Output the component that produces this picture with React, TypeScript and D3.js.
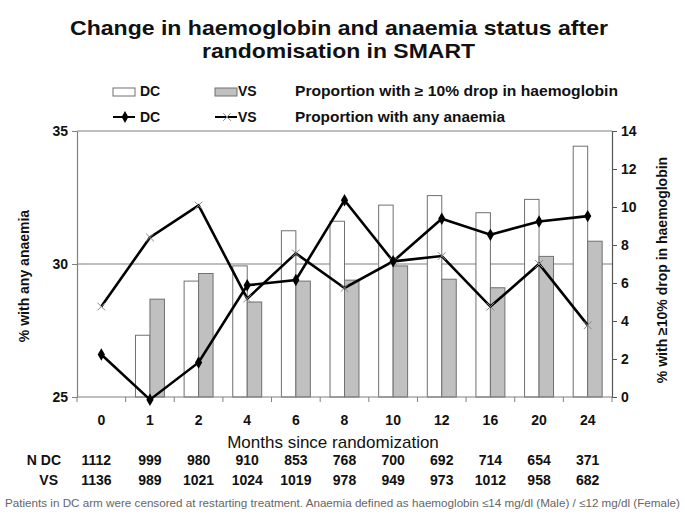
import * as d3 from 'd3';
import React, { useEffect, useRef } from 'react';

// months since randomisation
const months = ['0', '1', '2', '4', '6', '8', '10', '12', '16', '20', '24'];
// % with >=10% drop in haemoglobin (right axis, bars)
const dropDC = [0, 3.25, 6.1, 6.9, 8.75, 9.25, 10.1, 10.6, 9.7, 10.4, 13.2];
const dropVS = [0, 5.15, 6.5, 5.0, 6.1, 6.15, 6.9, 6.2, 5.75, 7.4, 8.2];
// % with any anaemia (left axis, lines)
const anaemiaDC = [26.6, 24.9, 26.3, 29.2, 29.4, 32.4, 30.1, 31.7, 31.1, 31.6, 31.8];
const anaemiaVS = [28.4, 31.0, 32.2, 28.7, 30.4, 29.1, 30.1, 30.3, 28.4, 30.0, 27.7];
// numbers at risk
const nDC = [1112, 999, 980, 910, 853, 768, 700, 692, 714, 654, 371];
const nVS = [1136, 989, 1021, 1024, 1019, 978, 949, 973, 1012, 958, 682];
const leftTicks = [25, 30, 35];
const rightTicks = [0, 2, 4, 6, 8, 10, 12, 14];
const arms = ['DC', 'VS'];

const FONT = 'Arial, "Liberation Sans", Helvetica, sans-serif';

const App = () => {
    const svgRef = useRef(null);

    useEffect(() => {
        document.body.style.margin = '0';
        const svg = d3.select(svgRef.current);
        svg.selectAll('*').remove();

        const width = 685;
        const height = 531;
        const left = 77, right = 612, top = 131, bottom = 397;

        svg.attr('width', width).attr('height', height)
            .style('font-family', FONT)
            .style('background', '#fff');

        const x = d3.scaleBand().domain(months).range([left, right]).padding(0);
        const xInner = d3.scaleBand().domain(arms).range([0, x.bandwidth()]).paddingInner(0).paddingOuter(0.68);
        const yL = d3.scaleLinear().domain([25, 35]).range([bottom, top]);
        const yR = d3.scaleLinear().domain([0, 14]).range([bottom, top]);

        // title
        svg.append('text')
            .attr('x', 70).attr('y', 35)
            .attr('textLength', 538).attr('lengthAdjust', 'spacingAndGlyphs')
            .style('font-size', '21px').style('font-weight', 'bold').attr('fill', '#111')
            .text('Change in haemoglobin and anaemia status after');
        svg.append('text')
            .attr('x', 202).attr('y', 58)
            .attr('textLength', 273).attr('lengthAdjust', 'spacingAndGlyphs')
            .style('font-size', '21px').style('font-weight', 'bold').attr('fill', '#111')
            .text('randomisation in SMART');

        // gridlines (left axis)
        svg.append('g').selectAll('line')
            .data(leftTicks.filter(t => t > 25))
            .join('line')
            .attr('x1', left).attr('x2', right)
            .attr('y1', d => yL(d)).attr('y2', d => yL(d))
            .attr('stroke', '#808080').attr('stroke-width', 1.2);

        // bars
        const barData = [];
        months.forEach((m, i) => {
            barData.push({ m, arm: 'DC', v: dropDC[i] });
            barData.push({ m, arm: 'VS', v: dropVS[i] });
        });
        svg.append('g').selectAll('rect')
            .data(barData.filter(d => d.v > 0))
            .join('rect')
            .attr('x', d => x(d.m) + xInner(d.arm))
            .attr('width', xInner.bandwidth())
            .attr('y', d => yR(d.v))
            .attr('height', d => yR(0) - yR(d.v))
            .attr('fill', d => d.arm === 'DC' ? '#ffffff' : '#c0c0c0')
            .attr('stroke', '#707070')
            .attr('stroke-width', 1);

        // left axis
        const gl = svg.append('g').attr('transform', `translate(${left},0)`)
            .call(d3.axisLeft(yL).tickValues(leftTicks).tickSize(5).tickSizeOuter(0).tickPadding(4));
        gl.select('.domain').attr('stroke', '#808080').attr('stroke-width', 1.2);
        gl.selectAll('.tick line').attr('stroke', '#808080');
        gl.selectAll('.tick text').style('font-size', '14px').style('font-weight', 'bold')
            .style('font-family', FONT).attr('fill', '#111');

        // right axis
        const gr = svg.append('g').attr('transform', `translate(${right},0)`)
            .call(d3.axisRight(yR).tickValues(rightTicks).tickSize(5).tickSizeOuter(0).tickPadding(4));
        gr.select('.domain').attr('stroke', '#555').attr('stroke-width', 1.2);
        gr.selectAll('.tick line').attr('stroke', '#555');
        gr.selectAll('.tick text').style('font-size', '14px').style('font-weight', 'bold')
            .style('font-family', FONT).attr('fill', '#111');

        // x axis
        const boundaries = months.map(m => x(m)).concat([right]);
        svg.append('line')
            .attr('x1', left).attr('x2', right).attr('y1', bottom).attr('y2', bottom)
            .attr('stroke', '#808080').attr('stroke-width', 1.2);
        svg.append('g').selectAll('line')
            .data(boundaries)
            .join('line')
            .attr('x1', d => d).attr('x2', d => d)
            .attr('y1', bottom).attr('y2', bottom + 5)
            .attr('stroke', '#808080');
        svg.append('g').selectAll('text')
            .data(months)
            .join('text')
            .attr('x', d => x(d) + x.bandwidth() / 2)
            .attr('y', 425)
            .attr('text-anchor', 'middle')
            .style('font-size', '14px').style('font-weight', 'bold')
            .attr('fill', '#111')
            .text(d => d);

        // lines
        const cx = (i) => x(months[i]) + x.bandwidth() / 2;
        const line = d3.line().x((d, i) => cx(i)).y(d => yL(d));
        svg.append('path').datum(anaemiaVS)
            .attr('d', line).attr('fill', 'none')
            .attr('stroke', '#000').attr('stroke-width', 2.6).attr('stroke-linejoin', 'miter');
        svg.append('path').datum(anaemiaDC)
            .attr('d', line).attr('fill', 'none')
            .attr('stroke', '#000').attr('stroke-width', 2.6).attr('stroke-linejoin', 'miter');

        svg.append('g').selectAll('path')
            .data(anaemiaVS)
            .join('path')
            .attr('transform', (d, i) => `translate(${cx(i)},${yL(d)})`)
            .attr('d', d3.symbol(d3.symbolX, 40))
            .attr('fill', 'none').attr('stroke', '#888').attr('stroke-width', 1);
        svg.append('g').selectAll('path')
            .data(anaemiaDC)
            .join('path')
            .attr('transform', (d, i) => `translate(${cx(i)},${yL(d)})`)
            .attr('d', d3.symbol(d3.symbolDiamond, 45))
            .attr('fill', '#000');

        // legend
        const lg = svg.append('g').style('font-size', '14px').style('font-weight', 'bold').attr('fill', '#111');
        lg.append('rect').attr('x', 113).attr('y', 88).attr('width', 22).attr('height', 8)
            .attr('fill', '#fff').attr('stroke', '#707070');
        lg.append('text').attr('x', 140).attr('y', 96).text('DC');
        lg.append('rect').attr('x', 215).attr('y', 88).attr('width', 22).attr('height', 8)
            .attr('fill', '#c0c0c0').attr('stroke', '#707070');
        lg.append('text').attr('x', 238).attr('y', 96).text('VS');
        lg.append('text').attr('x', 295).attr('y', 96)
            .attr('textLength', 323).attr('lengthAdjust', 'spacingAndGlyphs')
            .text('Proportion with \u2265 10% drop in haemoglobin');

        lg.append('line').attr('x1', 113).attr('x2', 135).attr('y1', 117).attr('y2', 117)
            .attr('stroke', '#000').attr('stroke-width', 2);
        lg.append('path').attr('transform', 'translate(125,117)')
            .attr('d', d3.symbol(d3.symbolDiamond, 40)).attr('fill', '#000');
        lg.append('text').attr('x', 140).attr('y', 122).text('DC');
        lg.append('line').attr('x1', 215).attr('x2', 237).attr('y1', 117).attr('y2', 117)
            .attr('stroke', '#000').attr('stroke-width', 2);
        lg.append('path').attr('transform', 'translate(227,117)')
            .attr('d', d3.symbol(d3.symbolX, 40)).attr('fill', 'none').attr('stroke', '#888');
        lg.append('text').attr('x', 238).attr('y', 122).text('VS');
        lg.append('text').attr('x', 295).attr('y', 122)
            .attr('textLength', 210).attr('lengthAdjust', 'spacingAndGlyphs')
            .text('Proportion with any anaemia');

        // axis titles
        svg.append('text')
            .attr('transform', `translate(29,${(top + bottom) / 2 + 12}) rotate(-90)`)
            .attr('text-anchor', 'middle')
            .style('font-size', '14px').style('font-weight', 'bold').attr('fill', '#111')
            .text('% with any anaemia');
        svg.append('text')
            .attr('transform', `translate(667,${(top + bottom) / 2 + 6}) rotate(-90)`)
            .attr('text-anchor', 'middle')
            .style('font-size', '14px').style('font-weight', 'bold').attr('fill', '#111')
            .text('% with \u226510% drop in haemoglobin');
        svg.append('text')
            .attr('x', 333).attr('y', 448)
            .attr('text-anchor', 'middle')
            .style('font-size', '17px').attr('fill', '#111')
            .text('Months since randomization');

        // numbers at risk
        const tbl = svg.append('g').style('font-size', '14px').style('font-weight', 'bold').attr('fill', '#111');
        tbl.append('text').attr('x', 61).attr('y', 465).attr('text-anchor', 'end').text('N DC');
        tbl.append('text').attr('x', 58).attr('y', 485).attr('text-anchor', 'end').text('VS');
        tbl.selectAll('text.ndc')
            .data(nDC)
            .join('text').attr('class', 'ndc')
            .attr('x', (d, i) => cx(i) - (i === 0 ? 5 : 0)).attr('y', 465).attr('text-anchor', 'middle')
            .text(d => d);
        tbl.selectAll('text.nvs')
            .data(nVS)
            .join('text').attr('class', 'nvs')
            .attr('x', (d, i) => cx(i) - (i === 0 ? 5 : 0)).attr('y', 485).attr('text-anchor', 'middle')
            .text(d => d);

        // footnote
        svg.append('text')
            .attr('x', 5).attr('y', 507)
            .attr('textLength', 675).attr('lengthAdjust', 'spacingAndGlyphs')
            .style('font-size', '11px').attr('fill', '#666')
            .text('Patients in DC arm were censored at restarting treatment.  Anaemia defined as haemoglobin \u226414 mg/dl (Male) / \u226412 mg/dl (Female)');
    }, []);

    return (
        <svg ref={svgRef}></svg>
    );
};

export default App;
